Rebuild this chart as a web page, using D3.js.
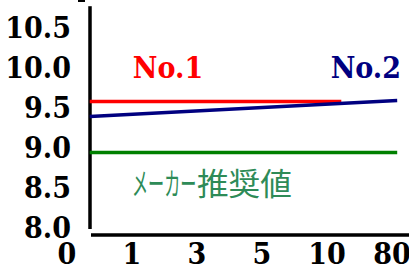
<!DOCTYPE html>
<html>
<head>
<meta charset="utf-8">
<script src="https://cdn.jsdelivr.net/npm/d3@7"></script>
<style>
  body { margin: 0; background: #fff; }
  .num { font-family: "DejaVu Serif Condensed", "DejaVu Serif", serif; font-weight: bold; }
  .jp { font-family: "Noto Sans CJK JP", sans-serif; }
</style>
</head>
<body>
<div class="graph"></div>
<script>
// categories on the bottom axis
var categories = ['0', '1', '3', '5', '10', '80'];
// y tick labels
var yTicks = [8.0, 8.5, 9.0, 9.5, 10.0, 10.5];
// series: x is a category index (fractional = between categories)
var no1X = [0.35, 4.22];
var no1Y = [9.57, 9.57];
var no2X = [0.35, 5.08];
var no2Y = [9.38, 9.58];
var makerX = [0.35, 5.08];
var makerY = [8.93, 8.93];

var width = 409, height = 278;

var svg = d3.select('.graph').append('svg')
  .attr('width', width)
  .attr('height', height);

var xPoint = d3.scalePoint()
  .domain(categories)
  .range([67, 392]);

var x = d3.scaleLinear()
  .domain([0, categories.length - 1])
  .range([67, 392]);

var y = d3.scaleLinear()
  .domain([8.0, 10.5])
  .range([227, 27]);

// y axis line
svg.append('line')
  .attr('x1', 90).attr('x2', 90)
  .attr('y1', y(10.76)).attr('y2', y(7.975))
  .attr('stroke', '#000').attr('stroke-width', 3.5);

// little mark at the top
svg.append('line')
  .attr('x1', 78).attr('x2', 85)
  .attr('y1', 1).attr('y2', 1)
  .attr('stroke', '#000').attr('stroke-width', 2);

// x axis line
svg.append('line')
  .attr('x1', 91).attr('x2', width)
  .attr('y1', 235).attr('y2', 235)
  .attr('stroke', '#000').attr('stroke-width', 3.5);

svg.selectAll('.ylab')
  .data(yTicks)
  .enter()
  .append('text')
  .attr('class', 'num ylab')
  .attr('x', 71)
  .attr('y', function (d) { return y(d); })
  .attr('dy', '0.36em')
  .attr('text-anchor', 'end')
  .attr('font-size', 30)
  .text(function (d) { return d.toFixed(1); });

svg.selectAll('.xlab')
  .data(categories)
  .enter()
  .append('text')
  .attr('class', 'num xlab')
  .attr('x', function (d) { return xPoint(d); })
  .attr('y', 264)
  .attr('text-anchor', 'middle')
  .attr('font-size', 30)
  .text(function (d) { return d; });

var line = d3.line()
  .x(function (d) { return x(d[0]); })
  .y(function (d) { return y(d[1]); });

var series = [
  {xs: makerX, ys: makerY, color: '#008000'},
  {xs: no1X, ys: no1Y, color: '#ff0000'},
  {xs: no2X, ys: no2Y, color: '#000080'}
];

series.forEach(function (s) {
  svg.append('path')
    .datum(d3.zip(s.xs, s.ys))
    .attr('d', line)
    .attr('fill', 'none')
    .attr('stroke', s.color)
    .attr('stroke-width', 3.5);
});

svg.append('text')
  .attr('class', 'num')
  .attr('x', 168).attr('y', 78)
  .attr('text-anchor', 'middle')
  .attr('font-size', 30)
  .attr('fill', '#ff0000')
  .text('No.1');

svg.append('text')
  .attr('class', 'num')
  .attr('x', 401).attr('y', 78)
  .attr('text-anchor', 'end')
  .attr('font-size', 30)
  .attr('fill', '#000080')
  .text('No.2');

// maker recommended value, katakana part squeezed
svg.append('text')
  .attr('class', 'jp')
  .attr('transform', 'translate(132,195) scale(0.52,1)')
  .attr('font-size', 31)
  .attr('fill', '#2e8b57')
  .text('メーカー');

svg.append('text')
  .attr('class', 'jp')
  .attr('transform', 'translate(197,195) scale(1.02,1)')
  .attr('font-size', 31)
  .attr('fill', '#2e8b57')
  .text('推奨値');
</script>
</body>
</html>
